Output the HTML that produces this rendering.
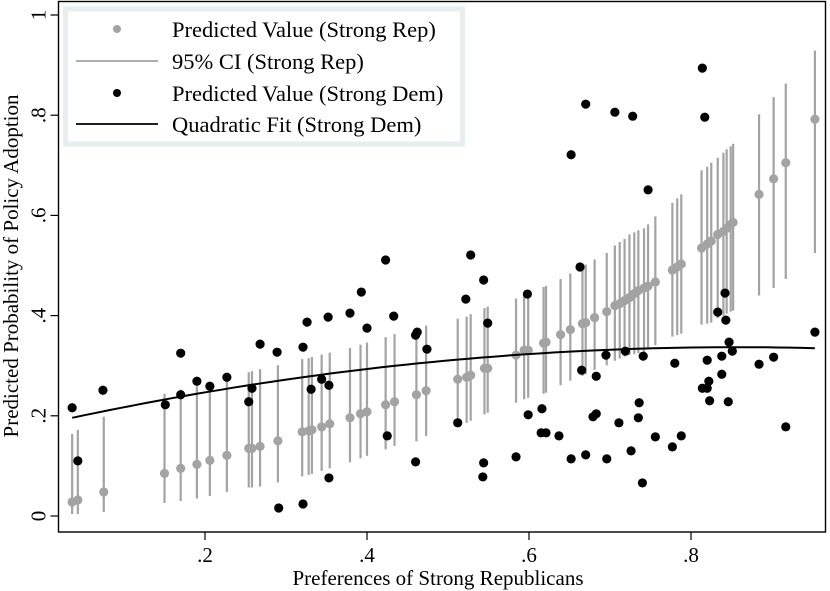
<!DOCTYPE html>
<html><head><meta charset="utf-8">
<style>
html,body{margin:0;padding:0;background:#fff;}
svg{display:block;font-family:"Liberation Serif",serif;}
</style></head>
<body>
<svg id="chart" width="830" height="591" viewBox="0 0 830 591" xmlns="http://www.w3.org/2000/svg">
<g id="plot"></g>
</svg>
<script>
const xTicks = [0.2, 0.4, 0.6, 0.8];
const xTickLabels = [".2", ".4", ".6", ".8"];
const yTicks = [0, 0.2, 0.4, 0.6, 0.8, 1];
const yTickLabels = ["0", ".2", ".4", ".6", ".8", "1"];

const repX = [.036,.043,.075,.150,.170,.190,.206,.227,.254,.258,.268,.290,.320,.328,.332,.344,.354,.379,.392,.400,.423,.434,.461,.473,.512,.523,.528,.545,.549,.584,.594,.599,.618,.621,.639,.651,.666,.670,.681,.696,.706,.712,.718,.724,.730,.735,.742,.747,.756,.777,.783,.788,.813,.820,.825,.833,.840,.844,.849,.852,.884,.902,.917,.953];
const repY = [.028,.032,.048,.085,.095,.103,.111,.121,.135,.135,.139,.150,.168,.170,.172,.178,.184,.196,.204,.208,.222,.228,.242,.250,.273,.277,.281,.295,.295,.321,.331,.331,.345,.347,.362,.372,.384,.386,.396,.408,.420,.424,.430,.436,.444,.450,.455,.459,.467,.491,.497,.503,.535,.543,.549,.562,.568,.574,.582,.586,.642,.673,.705,.792];
const repLo = [.004,.004,.008,.026,.030,.035,.040,.048,.057,.057,.059,.067,.079,.082,.084,.090,.095,.107,.115,.120,.133,.140,.149,.160,.180,.186,.190,.203,.206,.226,.233,.236,.244,.246,.261,.270,.280,.283,.292,.301,.310,.314,.318,.321,.323,.325,.327,.333,.341,.358,.361,.364,.382,.384,.386,.395,.400,.404,.408,.410,.440,.455,.473,.525];
const repHi = [.164,.172,.198,.244,.252,.259,.265,.271,.287,.289,.293,.301,.313,.315,.317,.322,.326,.335,.342,.346,.357,.363,.374,.380,.394,.398,.403,.415,.418,.434,.443,.448,.457,.459,.473,.484,.498,.502,.512,.525,.540,.547,.553,.562,.566,.570,.574,.582,.598,.625,.634,.642,.690,.697,.705,.715,.725,.732,.738,.743,.802,.836,.863,.929];

const demX = [.036,.043,.074,.151,.170,.170,.190,.206,.227,.254,.258,.268,.289,.291,.321,.321,.326,.331,.344,.352,.353,.353,.379,.393,.400,.423,.425,.433,.460,.462,.460,.474,.512,.522,.528,.544,.549,.543,.544,.584,.599,.598,.616,.615,.621,.637,.652,.652,.663,.665,.670,.670,.679,.683,.683,.695,.696,.706,.711,.719,.726,.728,.735,.736,.741,.740,.747,.756,.777,.780,.788,.814,.817,.814,.820,.820,.822,.823,.833,.838,.838,.842,.843,.846,.847,.851,.884,.902,.917,.953];
const demY = [.216,.110,.251,.222,.325,.242,.269,.259,.277,.228,.255,.343,.327,.016,.337,.024,.387,.253,.273,.397,.261,.076,.405,.447,.375,.511,.160,.399,.361,.367,.108,.333,.186,.433,.521,.471,.385,.078,.106,.118,.202,.443,.214,.166,.166,.160,.114,.721,.497,.291,.822,.122,.198,.204,.279,.321,.114,.806,.186,.329,.130,.798,.196,.226,.319,.066,.651,.158,.138,.305,.160,.894,.796,.255,.255,.311,.269,.230,.407,.319,.283,.445,.391,.228,.347,.329,.303,.317,.178,.367];

const fitCoef = [0.1833, 0.3591, -0.2098];
const fitRange = [0.036, 0.953];

const NS = "http://www.w3.org/2000/svg";
const svg = document.getElementById("chart");
const plot = document.getElementById("plot");
const L = 58.5, R = 825.5, T = 1.5, B = 532;
function sx(v){ return 43 + 810 * v; }
function sy(v){ return 516 - 501 * v; }
function mk(tag, attrs, parent){
  const e = document.createElementNS(NS, tag);
  for (const k in attrs) e.setAttribute(k, attrs[k]);
  (parent || svg).appendChild(e);
  return e;
}

let fr = mk("rect", {x:L, y:T, width:R-L, height:B-T, fill:"none", stroke:"#000", "stroke-width":1.4});



xTicks.forEach((t, i) => {
  const x = sx(t);
  const tk = mk("line", {x1:x, x2:x, y1:B, y2:B+8, stroke:"#000", "stroke-width":1.2});
  
  
  const lb = mk("text", {x:x, y:B+30, "text-anchor":"middle", "font-size":"21", fill:"#000"});
  lb.textContent = xTickLabels[i];
  
  
});
yTicks.forEach((t, i) => {
  const y = sy(t);
  const tk = mk("line", {x1:L-8, x2:L, y1:y, y2:y, stroke:"#000", "stroke-width":1.2});
  
  
  const lb = mk("text", {x:0, y:0, "text-anchor":"middle", "font-size":"21", fill:"#000", transform:`translate(${L-13},${y}) rotate(-90)`});
  lb.textContent = yTickLabels[i];
  
  
});
let xt = mk("text", {x:438, y:585, "text-anchor":"middle", "font-size":"21", fill:"#000"});
xt.textContent = "Preferences of Strong Republicans";


let yt = mk("text", {x:0, y:0, "text-anchor":"middle", "font-size":"21", fill:"#000", transform:"translate(18,266) rotate(-90)"});
yt.textContent = "Predicted Probability of Policy Adoption";



repX.forEach((v, i) => {
  const ci = mk("line", {x1:sx(v), x2:sx(v), y1:sy(repLo[i]), y2:sy(repHi[i]), stroke:"#a3a3a3", "stroke-width":2.2}, plot);
  
  
});
repX.forEach((v, i) => {
  const c = mk("circle", {cx:sx(v), cy:sy(repY[i]), r:4.6, fill:"#a3a3a3"}, plot);
  
  
});
demX.forEach((v, i) => {
  const c = mk("circle", {cx:sx(v), cy:sy(demY[i]), r:4.6, fill:"#000"}, plot);
  
  
});
let d = "";
for (let k = 0; k <= 60; k++) {
  const xv = fitRange[0] + (fitRange[1] - fitRange[0]) * k / 60;
  const yv = fitCoef[0] + fitCoef[1] * xv + fitCoef[2] * xv * xv;
  d += (k ? "L" : "M") + sx(xv).toFixed(1) + "," + sy(yv).toFixed(1);
}
let fit = mk("path", {d:d, fill:"none", stroke:"#000", "stroke-width":2}, plot);



const lg = mk("g", {});


mk("rect", {x:65.5, y:9, width:397, height:135, fill:"#fff", stroke:"#e6eef0", "stroke-width":5}, lg);
const legLabels = ["Predicted Value (Strong Rep)", "95% CI (Strong Rep)", "Predicted Value (Strong Dem)", "Quadratic Fit (Strong Dem)"];
const legRows = [29, 61, 93, 124];
legLabels.forEach((s, i) => {
  const y = legRows[i];
  let sym;
  if (i === 0) sym = mk("circle", {cx:117, cy:y, r:4, fill:"#a3a3a3"}, lg);
  if (i === 1) sym = mk("line", {x1:76, x2:158, y1:y, y2:y, stroke:"#a3a3a3", "stroke-width":1.8}, lg);
  if (i === 2) sym = mk("circle", {cx:117, cy:y, r:4, fill:"#000"}, lg);
  if (i === 3) sym = mk("line", {x1:76, x2:158, y1:y, y2:y, stroke:"#000", "stroke-width":1.8}, lg);
  
  
  const t = mk("text", {x:172, y:y+8, "font-size":"22.5", fill:"#000"}, lg);
  t.textContent = s;
  
  
});
</script>
</body></html>
